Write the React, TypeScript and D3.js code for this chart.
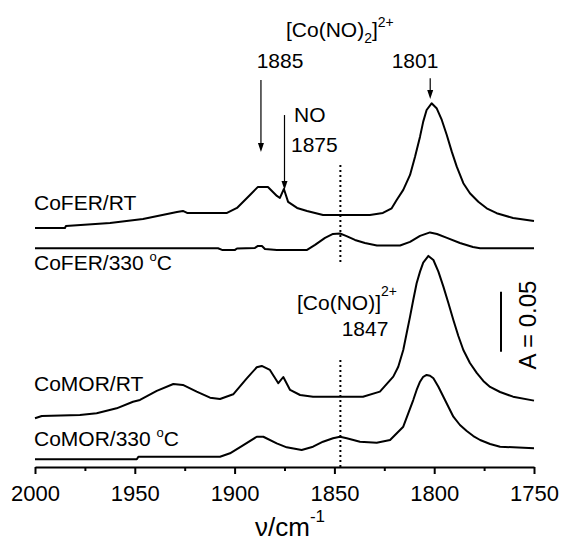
import React, { useRef, useEffect } from "react";
import * as d3 from "d3";

const FONT = "'Liberation Sans', Arial, sans-serif";
const W = 561;
const H = 542;

// [wavenumber cm-1, absorbance above the trace's own baseline]
const coferRT: [number, number][] = [
  [2000, 0], [1985, 0], [1984.5, 0.0017], [1962.4, 0.0042], [1945.9, 0.0075],
  [1928.9, 0.0133], [1925.9, 0.0142], [1923.8, 0.0125], [1903.8, 0.0125],
  [1898.8, 0.0167], [1892.3, 0.0275], [1888.3, 0.0342], [1883.3, 0.0342],
  [1878.8, 0.0267], [1877.3, 0.025], [1875.3, 0.0325], [1873.2, 0.0217],
  [1868.7, 0.0167], [1863.7, 0.0142], [1855.7, 0.0108], [1832.2, 0.0108],
  [1825.7, 0.0125], [1821.3, 0.0164], [1818.8, 0.0233], [1815.5, 0.0317],
  [1812.1, 0.0442], [1809.6, 0.0594], [1807.1, 0.0761], [1805.5, 0.0886],
  [1803.8, 0.0983], [1801.3, 0.1039], [1798.8, 0.0998], [1796.2, 0.09],
  [1793.7, 0.0775], [1791.2, 0.0636], [1788.7, 0.0511], [1785.4, 0.0373],
  [1782.1, 0.0289], [1777.9, 0.0219], [1773.7, 0.0164], [1768.7, 0.0123],
  [1760.5, 0.0083], [1750, 0.0058],
];

const cofer330: [number, number][] = [
  [2000, 0], [1908.3, 0], [1906.3, -0.0014], [1899.8, -0.0014], [1898.8, -0.0002],
  [1889.8, 0.0003], [1888.3, 0.0019], [1886.3, 0.0019], [1884.8, -0.0006],
  [1878.8, -0.0014], [1863.7, -0.0014], [1859.7, 0.0028], [1854.7, 0.0086],
  [1850.7, 0.0119], [1847.2, 0.0123], [1844.2, 0.0103], [1839.7, 0.0069],
  [1834.7, 0.0044], [1828.7, 0.0023], [1817.1, 0.0023], [1812.1, 0.0053],
  [1807.1, 0.0103], [1802.1, 0.0132], [1798.6, 0.0119], [1793.6, 0.0086],
  [1787.1, 0.0044], [1780.6, 0.0011], [1777, 0], [1750, 0],
];

const comorRT: [number, number][] = [
  [2000, 0], [1996.6, 0.0019], [1977.5, 0.0028], [1969.1, 0.0042], [1959.1, 0.0083],
  [1950.9, 0.0138], [1947.4, 0.0153], [1939, 0.0228], [1930.7, 0.0286],
  [1925.9, 0.0278], [1919, 0.0222], [1912.3, 0.0172], [1907.3, 0.0161],
  [1900.7, 0.02], [1893.9, 0.0333], [1888.9, 0.0425], [1886.4, 0.0436],
  [1882.3, 0.0403], [1878.1, 0.0292], [1875.6, 0.0344], [1872.2, 0.0236],
  [1867.2, 0.0194], [1860.7, 0.018], [1835.7, 0.018], [1827.2, 0.0222],
  [1820.5, 0.0347], [1818, 0.043], [1815.5, 0.0569], [1813.8, 0.0708],
  [1812.1, 0.0847], [1810.5, 0.0986], [1808.8, 0.1125], [1807.1, 0.1222],
  [1805.5, 0.1297], [1802.9, 0.1353], [1800.4, 0.1319], [1797.9, 0.1222],
  [1795.4, 0.1097], [1792.9, 0.0961], [1790.4, 0.0819], [1787.9, 0.0686],
  [1785.4, 0.0569], [1782.1, 0.0461], [1778.7, 0.0378], [1775.4, 0.0311],
  [1772, 0.0261], [1767, 0.0219], [1760.5, 0.018], [1750, 0.0147],
];

const comor330: [number, number][] = [
  [2000, 0], [1949, 0], [1948.2, 0.0022], [1907.3, 0.0022], [1902.3, 0.005],
  [1895.6, 0.0119], [1888.9, 0.0188], [1885.6, 0.0188], [1878.9, 0.0133],
  [1873.9, 0.01], [1866.4, 0.0078], [1860.7, 0.0105], [1855.7, 0.0147],
  [1850.7, 0.0175], [1847.2, 0.0188], [1843.8, 0.0175], [1837.2, 0.0147],
  [1828.8, 0.0138], [1822.1, 0.0161], [1815.5, 0.0272], [1813, 0.0383],
  [1810.5, 0.0494], [1808.8, 0.0578], [1807.1, 0.0647], [1805.5, 0.0688],
  [1803.8, 0.0703], [1802.1, 0.0697], [1800.4, 0.0675], [1797.9, 0.0605],
  [1795.4, 0.0522], [1792.9, 0.0438], [1790.4, 0.0355], [1787.1, 0.0286],
  [1783.7, 0.0236], [1780.4, 0.0194], [1777, 0.0161], [1772, 0.0128],
  [1767, 0.0105], [1750, 0.0092],
];

const traces = [coferRT, cofer330, comorRT, comor330];
const traceOffsets = [0.1992, 0.1823, 0.0406, 0.0064];

const majorTicks = [2000, 1950, 1900, 1850, 1800, 1750];
const minorTicks = [1975, 1925, 1875, 1825, 1775];

const bandMarker = 1847;
const scaleBarA = 0.05;

const App = () => {
  const svgRef = useRef<SVGSVGElement>(null);

  useEffect(() => {
    const svg = d3.select(svgRef.current);
    svg.selectAll("*").remove();

    const x = d3.scaleLinear().domain([2000, 1750]).range([35, 534]);
    const y = d3.scaleLinear().domain([0, 0.35]).range([467, 47]);

    // spectra
    traces.forEach((tr, i) => {
      const line = d3.line<[number, number]>()
        .x(d => x(d[0]))
        .y(d => y(d[1] + traceOffsets[i]));
      svg.append("path")
        .datum(tr)
        .attr("fill", "none")
        .attr("stroke", "#000")
        .attr("stroke-width", 2)
        .attr("stroke-linejoin", "round")
        .attr("d", line);
    });

    // x axis
    const gX = svg.append("g").attr("transform", `translate(0,${y(0)})`);
    gX.call(d3.axisBottom(x).tickValues(majorTicks).tickSize(7).tickSizeOuter(0).tickPadding(11).tickFormat(d3.format("d")));
    gX.select(".domain").attr("stroke-width", 2);
    gX.selectAll(".tick line").attr("stroke-width", 2);
    gX.attr("font-size", 22).attr("font-family", FONT);
    gX.selectAll("text").attr("fill", "#000");

    const gMinor = svg.append("g").attr("transform", `translate(0,${y(0)})`);
    gMinor.call(d3.axisBottom(x).tickValues(minorTicks).tickSize(4).tickFormat(() => ""));
    gMinor.select(".domain").remove();
    gMinor.selectAll(".tick line").attr("stroke-width", 2);

    // axis title
    const title = svg.append("text")
      .attr("x", 290).attr("y", 536)
      .attr("text-anchor", "middle")
      .attr("font-family", FONT).attr("font-size", 26);
    title.append("tspan").text("ν/cm");
    title.append("tspan").attr("font-size", 17).attr("dy", -14).text("-1");

    // dotted marker lines at 1847
    [[0.2517, 0.1683], [0.0892, 0]].forEach(([a, b]) => {
      svg.append("line")
        .attr("x1", x(bandMarker)).attr("x2", x(bandMarker))
        .attr("y1", y(a)).attr("y2", y(b))
        .attr("stroke", "#000").attr("stroke-width", 2)
        .attr("stroke-dasharray", "2,3");
    });

    // arrows
    const arrow = (wn: number, a1: number, a2: number) => {
      const xa = x(wn);
      const y1 = y(a1);
      const y2 = y(a2);
      svg.append("line")
        .attr("x1", xa).attr("x2", xa).attr("y1", y1).attr("y2", y2 - 6)
        .attr("stroke", "#000").attr("stroke-width", 1.2);
      svg.append("path")
        .attr("d", `M${xa - 3},${y2 - 9}L${xa + 3},${y2 - 9}L${xa},${y2}Z`)
        .attr("fill", "#000");
    };
    arrow(1886.8, 0.3225, 0.2625);
    arrow(1875, 0.2933, 0.2308);
    arrow(1802, 0.324, 0.3067);

    const text = (tx: number, ty: number, s: string, anchor = "start") =>
      svg.append("text")
        .attr("x", tx).attr("y", ty)
        .attr("text-anchor", anchor)
        .attr("font-family", FONT).attr("font-size", 21)
        .text(s);

    text(280, 68, "1885", "middle");
    text(415, 68, "1801", "middle");
    text(294, 122, "NO");
    text(291, 152, "1875");
    text(365, 336, "1847", "middle");

    const co2 = text(286, 37, "[Co(NO)");
    co2.append("tspan").attr("font-size", 14).attr("dy", 6).text("2");
    co2.append("tspan").attr("dy", -6).text("]");
    co2.append("tspan").attr("font-size", 14).attr("dy", -10).text("2+");

    const co1 = text(297, 310, "[Co(NO)]");
    co1.append("tspan").attr("font-size", 14).attr("dy", -14).text("2+");

    text(34, 210, "CoFER/RT");
    const f330 = text(34, 270, "CoFER/330 ");
    f330.append("tspan").attr("font-size", 13).attr("dy", -9).text("o");
    f330.append("tspan").attr("dy", 9).text("C");
    text(34, 391, "CoMOR/RT");
    const m330 = text(34, 446, "CoMOR/330 ");
    m330.append("tspan").attr("font-size", 13).attr("dy", -9).text("o");
    m330.append("tspan").attr("dy", 9).text("C");

    // scale bar
    const barTop = 0.1461;
    svg.append("line")
      .attr("x1", 501).attr("x2", 501)
      .attr("y1", y(barTop)).attr("y2", y(barTop - scaleBarA))
      .attr("stroke", "#000").attr("stroke-width", 2);
    svg.append("text")
      .attr("transform", "translate(536,325) rotate(-90)")
      .attr("text-anchor", "middle")
      .attr("font-family", FONT).attr("font-size", 24)
      .text("A = 0.05");
  }, []);

  return (
    <svg
      ref={svgRef}
      width={W}
      height={H}
      style={{ position: "absolute", left: 0, top: 0, background: "#fff" }}
    />
  );
};

export default App;
